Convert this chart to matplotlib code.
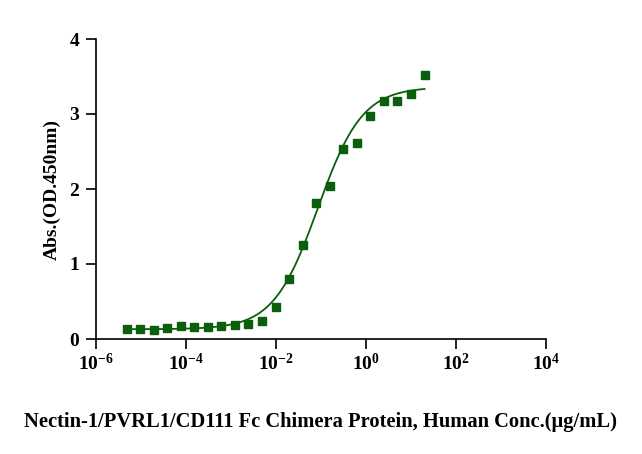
import numpy as np
import matplotlib
matplotlib.use('Agg')
import matplotlib.pyplot as plt
from matplotlib.ticker import FixedLocator, NullLocator

plt.rcParams['font.family'] = ['Liberation Serif', 'DejaVu Serif']
plt.rcParams['font.weight'] = 'bold'
plt.rcParams['mathtext.fontset'] = 'custom'
plt.rcParams['mathtext.rm'] = 'Liberation Serif:bold'
plt.rcParams['mathtext.bf'] = 'Liberation Serif:bold'

GREEN = '#0b5e0b'

# 2-fold dilution series starting at 20 ug/mL
conc = 20.0 / 2.0 ** np.arange(22, -1, -1)
od = [0.13, 0.13, 0.12, 0.15, 0.18, 0.155, 0.165, 0.17, 0.19, 0.20, 0.235,
      0.43, 0.80, 1.26, 1.81, 2.04, 2.54, 2.62, 2.98, 3.18, 3.18, 3.27, 3.52]

# 4PL fit parameters (bottom, top, logEC50, hill)
bottom, top, log_ec50, hill = 0.13, 3.36, -1.07, 0.88

xx = np.logspace(np.log10(conc[0]), np.log10(conc[-1]), 300)
yy = bottom + (top - bottom) / (1 + 10 ** ((log_ec50 - np.log10(xx)) * hill))

fig = plt.figure(figsize=(6.42, 4.54), dpi=100)
ax = fig.add_axes([96/642, 1 - 339/454, 450/642, 300/454])

ax.plot(xx, yy, color=GREEN, lw=1.3, zorder=2)
ax.plot(conc, od, ls='none', marker='s', ms=5.2, color=GREEN, zorder=3)

ax.set_xscale('log')
ax.set_xlim(1e-6, 1e4)
ax.set_ylim(0, 4)
ax.xaxis.set_major_locator(FixedLocator([1e-6, 1e-4, 1e-2, 1, 1e2, 1e4]))
ax.xaxis.set_minor_locator(NullLocator())
ax.set_xticklabels([r'$\mathregular{10^{-6}}$', r'$\mathregular{10^{-4}}$',
                    r'$\mathregular{10^{-2}}$', r'$\mathregular{10^{0}}$',
                    r'$\mathregular{10^{2}}$', r'$\mathregular{10^{4}}$'])
ax.set_yticks([0, 1, 2, 3, 4])

for s in ['top', 'right']:
    ax.spines[s].set_visible(False)
for s in ['left', 'bottom']:
    ax.spines[s].set_linewidth(1.2)
ax.tick_params(axis='both', width=1.2, length=7, labelsize=14)
ax.tick_params(axis='x', pad=3)
ax.tick_params(axis='y', pad=5)

ax.set_ylabel('Abs.(OD.450nm)', fontsize=14, fontweight='bold', labelpad=6)
fig.text(0.5, 1 - 422/454, 'Nectin-1/PVRL1/CD111 Fc Chimera Protein, Human Conc.(\u00b5g/mL)',
         ha='center', va='center', fontsize=14.8, fontweight='bold')

fig.savefig('out.png', dpi=100, facecolor='white')
